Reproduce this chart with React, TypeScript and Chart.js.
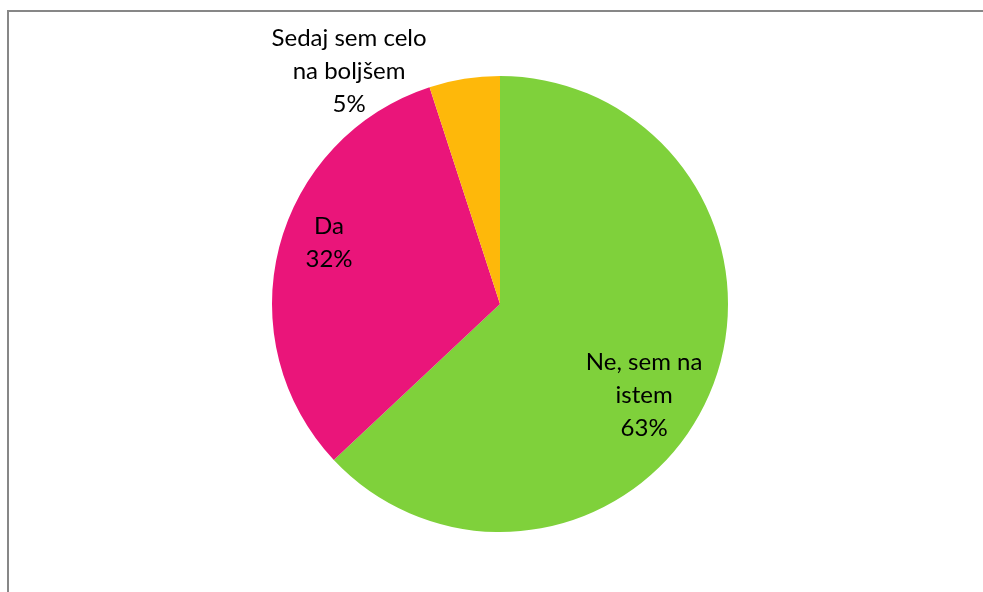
import React, { useEffect, useRef } from "react";
import { Chart, registerables } from "chart.js";

Chart.register(...registerables);

const categories: string[][] = [
  ["Ne, sem na", "istem"],
  ["Da"],
  ["Sedaj sem celo", "na boljšem"],
];
const percentLabels = ["63%", "32%", "5%"];
const values = [63, 32, 5];
const colors = ["#7FD13B", "#EA157A", "#FEB80A"];

// label placement relative to pie centre, in units of the outer radius (style)
const labelOffsets = [
  [0.632, 0.397],
  [-0.75, -0.274],
  [-0.662, -1.024],
];

const labelPlugin = {
  id: "pieLabels",
  afterDatasetsDraw(chart: any) {
    const ctx = chart.ctx;
    const meta = chart.getDatasetMeta(0);
    const fontSize = 24;
    const lh = 33;
    const cap = 8.5;
    ctx.save();
    ctx.font = `${fontSize}px Lato, "Open Sans", sans-serif`;
    ctx.fillStyle = "#000";
    ctx.textAlign = "center";
    ctx.textBaseline = "alphabetic";
    meta.data.forEach((arc: any, i: number) => {
      const R = arc.outerRadius;
      const cx = arc.x + labelOffsets[i][0] * R;
      const cy = arc.y + labelOffsets[i][1] * R;
      const lines = [...categories[i], percentLabels[i]];
      const n = lines.length;
      lines.forEach((t, j) => {
        const y = cy + (j - (n - 1) / 2) * lh + cap;
        ctx.fillText(t, cx, y);
      });
    });
    ctx.restore();
  },
};

export default function App() {
  const ref = useRef<HTMLCanvasElement | null>(null);
  useEffect(() => {
    if (!ref.current) return;
    const chart = new Chart(ref.current, {
      type: "pie",
      data: {
        labels: categories.map((c) => c.join(" ")),
        datasets: [
          {
            data: values,
            backgroundColor: colors,
            borderWidth: 0,
          },
        ],
      },
      options: {
        responsive: false,
        animation: false,
        layout: { padding: { left: 272, right: 255, top: 76, bottom: 60 } },
        plugins: {
          legend: { display: false },
          tooltip: { enabled: false },
        },
      },
      plugins: [labelPlugin],
    });
    return () => chart.destroy();
  }, []);
  return (
    <div
      style={{
        position: "fixed",
        left: 0,
        top: 0,
        width: 983,
        height: 592,
        background: "#fff",
        overflow: "hidden",
      }}
    >
      <div
        style={{
          position: "absolute",
          left: 7,
          top: 10,
          width: 1000,
          height: 600,
          borderLeft: "2px solid #878787",
          borderTop: "2px solid #878787",
          boxSizing: "border-box",
        }}
      />
      <canvas
        ref={ref}
        width={983}
        height={592}
        style={{ position: "absolute", left: 0, top: 0 }}
      />
    </div>
  );
}
